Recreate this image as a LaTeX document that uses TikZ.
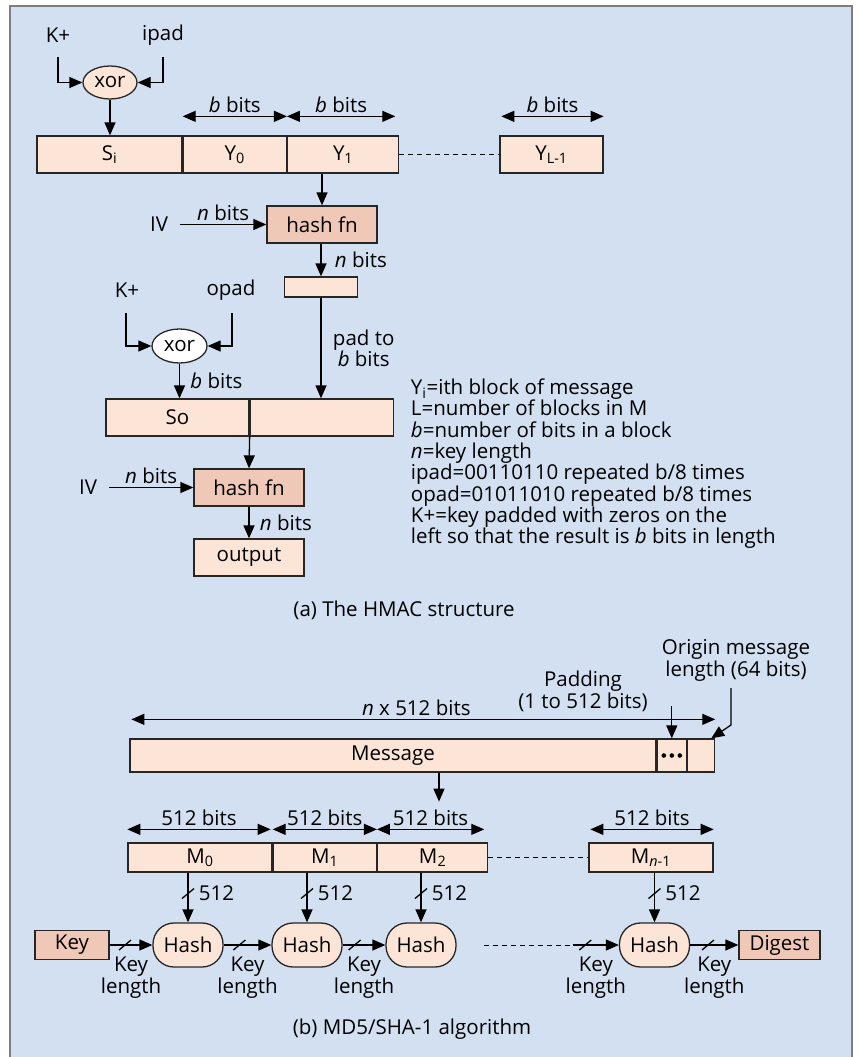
\documentclass[tikz,border=0pt]{standalone}
\usepackage{fontspec}
\setmainfont{Open Sans}
\usetikzlibrary{arrows.meta,shapes.geometric,calc}

\definecolor{bgblue}{RGB}{211,224,241}
\definecolor{peach}{RGB}{252,228,214}
\definecolor{salmon}{RGB}{240,200,183}
\definecolor{framegray}{RGB}{125,125,125}

\tikzset{
  arr/.style={-{Triangle[length=13pt,width=11pt]}},
  dbl/.style={{Triangle[length=13pt,width=11pt]}-{Triangle[length=13pt,width=11pt]}},
  blk/.style={draw=black!85, fill=peach, inner sep=0pt, minimum height=37pt},
  hashbox/.style={blk, fill=salmon},
  xorball/.style={draw=black!85, ellipse, fill=peach, inner sep=0pt, minimum width=54pt, minimum height=33pt},
  hashpill/.style={draw=black!85, fill=peach, rounded corners=21pt, minimum width=70pt, minimum height=44pt, inner sep=0pt},
  dashline/.style={dash pattern=on 5pt off 4pt, line width=1pt},
  keylen/.style={below=8pt, align=center, font=\fontsize{20.5}{19}\selectfont},
  slash/.pic={\draw (-6,5) -- (6,-5);}
}

\begin{document}
\begin{tikzpicture}[x=1pt, y=-1pt, line width=1.3pt, font=\fontsize{20.5}{21.3}\selectfont]
    % Frame
    \useasboundingbox (0,0) rectangle (858,1057);
    \fill[bgblue] (10,6) rectangle (852,1062);
    \draw[framegray, line width=1.3pt] (10,1062) -- (10,6) -- (852,6) -- (852,1062);

    % (a) inner key xor
    \node (kp1) at (58,35) {K+};
    \node (ipad) at (163,35) {ipad};
    \coordinate (k1) at (58,57);
    \coordinate (p1) at (163,57);
    \node[xorball] (xor1) at (110,82.5) {xor};
    \draw[arr] (k1) |- (xor1.west);
    \draw[arr] (p1) |- (xor1.east);

    % Message blocks
    \node[blk, minimum width=145pt] (si) at (109.5,154.5) {S\textsubscript{i}};
    \node[blk, minimum width=103pt, anchor=west] (y0) at (si.east) {Y\textsubscript{0}};
    \node[blk, minimum width=111pt, anchor=west] (y1) at (y0.east) {Y\textsubscript{1}};
    \node[blk, minimum width=103pt] (yl) at (551.5,154.5) {Y\textsubscript{L-1}};
    \draw[dashline] (y1.east) -- (yl.west);
    \draw[arr] (xor1.south) -- (xor1.south |- si.north);

    % Block widths
    \draw[dbl] ([yshift=19pt]y0.north west) -- node[above=0pt] (bb0) {\textit{b} bits} ([yshift=19pt]y0.north east);
    \draw[dbl] ([yshift=19pt]y1.north west) -- node[above=0pt] (bb1) {\textit{b} bits} ([yshift=19pt,xshift=-4pt]y1.north east);
    \draw[dbl] ([yshift=19pt,xshift=2pt]yl.north west) -- node[above=0pt] (bbl) {\textit{b} bits} ([yshift=19pt]yl.north east);

    % First hash
    \node[hashbox, minimum width=110pt] (h1) at (322,224.5) {hash fn};
    \draw[arr] (y1.south -| h1.north) -- (h1.north);
    \node (iv1) at (159,224.5) {IV};
    \draw[arr] ([xshift=8pt]iv1.east) -- node[above=0pt] (nb1) {\textit{n} bits} (h1.west);
    \node[blk, minimum width=73pt, minimum height=20pt] (pb) at (321,287) {};
    \draw[arr] (h1.south -| pb.north) -- node[right=10pt] (nb2) {\textit{n} bits} (pb.north);

    % Outer key xor
    \node (kp2) at (127,290) {K+};
    \node (opad) at (231,290) {opad};
    \coordinate (k2) at (126,313);
    \coordinate (p2) at (232,313);
    \node[xorball, fill=white, minimum width=55pt, minimum height=34pt] (xor2) at (179.5,346) {xor};
    \draw[arr] (k2) |- (xor2.west);
    \draw[arr] (p2) |- (xor2.east);

    % So block
    \node[blk, minimum width=143pt] (so) at (177.5,417.5) {So};
    \node[blk, minimum width=143pt, anchor=west] (sopad) at (so.east) {};
    \draw[arr] (xor2.south) -- node[right=7pt] (bb2) {\textit{b} bits} (xor2.south |- so.north);
    \draw[arr] (pb.south) -- node[right=8pt, align=center] (padto) {pad to\\\textit{b} bits} (pb.south |- sopad.north);

    % Second hash
    \node[hashbox, minimum width=110pt] (h2) at (249,487.5) {hash fn};
    \draw[arr] (so.south east) -- (h2.north);
    \node (iv2) at (88,487.5) {IV};
    \draw[arr] ([xshift=8pt]iv2.east) -- node[above=0pt] (nb3) {\textit{n} bits} (h2.west);
    \node[blk, minimum width=110pt] (out) at (249,557.5) {output};
    \draw[arr] (h2.south) -- node[right=7pt] (nb4) {\textit{n} bits} (out.north);

    % Legend
    \node[align=left, anchor=north west] (legend) at (407,375) {Y\textsubscript{i}=ith block of message\\
      L=number of blocks in M\\
      \textit{b}=number of bits in a block\\
      \textit{n}=key length\\
      ipad=00110110 repeated b/8 times\\
      opad=01011010 repeated b/8 times\\
      K+=key padded with zeros on the\\
      left so that the result is \textit{b} bits in length};

    \node (capa) at (404,610) {(a) The HMAC structure};

    % (b) message padding
    \node[align=center] (origin) at (736,660.5) {Origin message\\length (64 bits)};
    \node[align=center, font=\fontsize{20.5}{22}\selectfont] (padding) at (583,691) {Padding\\(1 to 512 bits)};
    \node[blk, minimum width=526pt, minimum height=33pt] (msg) at (393,755.5) {Message};
    \node[blk, minimum width=29pt, minimum height=33pt, anchor=west] (dots) at (msg.east) {};
    \node[blk, minimum width=27pt, minimum height=33pt, anchor=west] (mlen) at (dots.east) {};
    \foreach \dx in {-8,0,8}
      \fill ($(dots.center)+(\dx,0)$) circle (2.3pt);
    \draw[dbl] ([yshift=19pt,xshift=2pt]msg.north west) -- node[above=0pt, xshift=-7pt] (nx) {\textit{n} x 512 bits} ([yshift=19pt]mlen.north east);
    \draw[arr] ([yshift=32pt]dots.north) -- (dots.north);
    \coordinate (ol) at (731,688);
    \draw[arr] (ol) -- ++(0,37) -- ([xshift=-4pt]mlen.north east);
    \draw[arr] ([xshift=46pt]msg.south) -- ++(0,29);

    % 512-bit blocks
    \node[blk, minimum width=144pt, minimum height=29pt] (m0) at (200,857.5) {M\textsubscript{0}};
    \node[blk, minimum width=103pt, minimum height=29pt, anchor=west] (m1) at (m0.east) {M\textsubscript{1}};
    \node[blk, minimum width=110pt, minimum height=29pt, anchor=west] (m2) at (m1.east) {M\textsubscript{2}};
    \node[blk, minimum width=124pt, minimum height=29pt] (mn) at (651,857.5) {M\textsubscript{\textit{n}-1}};
    \draw[dashline] (m2.east) -- (mn.west);
    \draw[dbl] ([yshift=13pt]m0.north west) -- node[above=0pt] (w0) {512 bits} ([yshift=13pt,xshift=-2pt]m0.north east);
    \draw[dbl] ([yshift=13pt]m1.north west) -- node[above=0pt] (w1) {512 bits} ([yshift=13pt]m1.north east);
    \draw[dbl] ([yshift=13pt]m2.north west) -- node[above=0pt] (w2) {512 bits} ([yshift=13pt,xshift=-4pt]m2.north east);
    \draw[dbl] ([yshift=13pt,xshift=2pt]mn.north west) -- node[above=0pt] (wn) {512 bits} ([yshift=13pt]mn.north east);

    % Hash chain
    \node[hashbox, minimum width=74pt, minimum height=29pt] (key) at (72,945) {Key};
    \node[hashpill] (hs1) at (188,945) {Hash};
    \node[hashpill] (hs2) at (307,945) {Hash};
    \node[hashpill] (hs3) at (421,945) {Hash};
    \node[hashpill] (hsn) at (654.5,945) {Hash};
    \node[hashbox, minimum width=81pt, minimum height=29pt] (dig) at (779.5,945) {Digest};

    \draw[arr] (hs1.north |- m0.south) -- coordinate[pos=.42] (v1) (hs1.north);
    \draw[arr] (hs2.north |- m1.south) -- coordinate[pos=.42] (v2) (hs2.north);
    \draw[arr] (hs3.north |- m2.south) -- coordinate[pos=.42] (v3) (hs3.north);
    \draw[arr] (hsn.north |- mn.south) -- coordinate[pos=.42] (v4) (hsn.north);
    \foreach \v in {v1,v2,v3,v4} {
      \pic at (\v) {slash};
      \node[right=7pt] at (\v) {512};
    }

    \draw[arr] (key.east) -- coordinate[pos=.36] (s1) node[keylen, midway] (kl1) {Key\\length} (hs1.west);
    \draw[arr] (hs1.east) -- coordinate[pos=.33] (s2) node[keylen, midway] (kl2) {Key\\length} (hs2.west);
    \draw[arr] (hs2.east) -- coordinate[pos=.28] (s3) node[keylen, midway] (kl3) {Key\\length} (hs3.west);
    \draw[dashline] ([xshift=27pt]hs3.east) -- ([xshift=-46pt]hsn.west) coordinate (dend);
    \draw[arr] (dend) -- coordinate[pos=.27] (s4) node[keylen, midway] (kl4) {Key\\length} (hsn.west);
    \draw[arr] (hsn.east) -- coordinate[pos=.37] (s5) node[keylen, midway] (kl5) {Key\\length} (dig.west);
    \foreach \s in {s1,s2,s3,s4,s5}
      \pic at (\s) {slash};

    \node (capb) at (412,1029) {(b) MD5/SHA-1 algorithm};
\end{tikzpicture}
\end{document}
